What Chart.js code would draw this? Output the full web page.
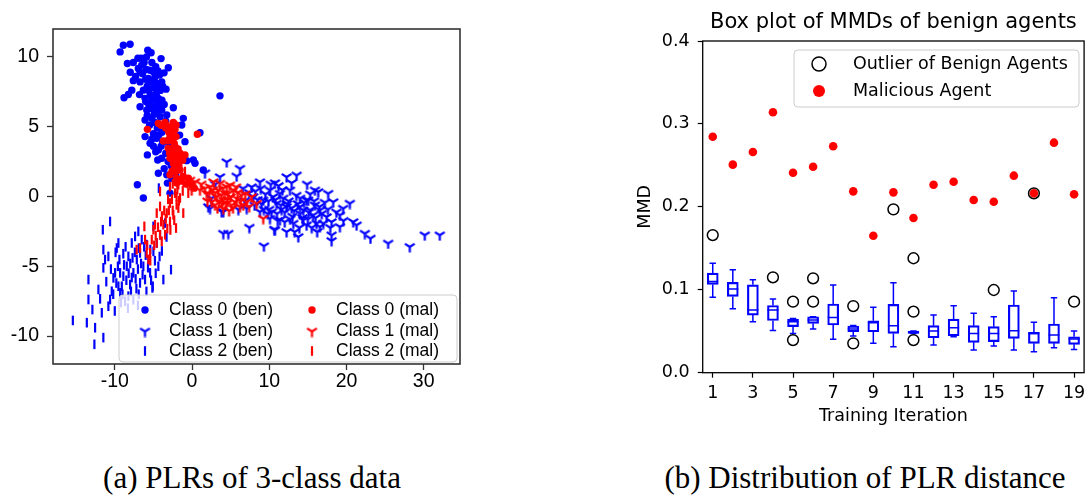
<!DOCTYPE html>
<html>
<head>
<meta charset="utf-8">
<title>PLR scatter and MMD box plot</title>
<script src="https://cdn.jsdelivr.net/npm/chart.js@4.4.1/dist/chart.umd.min.js"></script>
<style>
  html, body { margin: 0; padding: 0; background: #fff; }
  body { width: 1091px; height: 495px; position: relative; overflow: hidden; }
  canvas { position: absolute; }
  #plr { left: 0; top: 0; }
  #mmd { left: 600px; top: 0; }
  .caption {
    position: absolute; top: 460px; white-space: nowrap; line-height: 36px;
    font-family: "Liberation Serif", "DejaVu Serif", serif; font-size: 31px;
    transform: translateX(-50%); color: #000;
  }
</style>
</head>
<body>
<canvas id="plr" width="480" height="410"></canvas>
<canvas id="mmd" width="491" height="440"></canvas>
<div class="caption" style="left: 252px;">(a) PLRs of 3-class data</div>
<div class="caption" style="left: 865px;">(b) Distribution of PLR distance</div>
<script>
// ---- (a) PLR points, [x, y] ----
const class0Ben = [
  [-8.89,10.84],[-8.02,10.91],[-9.31,10.36],[-5.73,10.48],[-4.01,9.88],[-8.37,9.53],[-6.95,9.17],
  [-6.51,9.41],[-6.73,8.93],[-5.43,9.05],[-5.0,8.93],[-3.07,9.22],[-3.62,8.86],[-6.73,8.21],
  [-5.65,8.46],[-4.79,8.57],[-4.57,8.1],[-3.92,8.21],[-3.36,7.69],[-6.3,7.62],[-7.8,7.62],
  [-8.24,7.31],[-8.8,7.07],[-6.08,7.03],[-5.21,7.14],[-4.36,7.03],[3.62,7.21],[-6.73,6.43],
  [-5.86,6.19],[-4.79,6.43],[-3.92,6.19],[-2.42,6.36],[-6.08,5.48],[-5.21,5.6],[-4.14,5.71],
  [-3.27,5.84],[-1.13,5.6],[-1.33,5.12],[-6.08,4.29],[-5.43,3.81],[-4.57,4.17],[-0.91,3.93],
  [1.03,4.57],[-5.78,2.98],[-4.36,3.34],[-3.92,2.74],[0.17,2.62],[-4.44,2.62],[-4.36,1.67],
  [-3.27,1.55],[-7.08,0.84],[-6.3,-0.11],[-3.19,0.96],[-2.85,0.24],[-1.77,2.43],[-0.69,2.57],
  [1.46,1.9],[0.39,2.38],[-5.4,8.2],[-4.9,7.8],[-5.6,7.6],[-4.6,7.4],[-5.1,6.9],[-4.4,6.6],
  [-5.3,6.3],[-4.9,5.9],[-3.6,6.6],[-4.1,7.6],[-6.4,8.8],[-5.9,9.1],[-4.7,9.3],[-6.0,6.8],
  [-5.5,5.1],[-4.5,4.9],[-3.9,4.6],[-5.0,4.5],[-4.0,3.6],[-3.4,3.1],[-2.7,2.2],[-3.6,2.0],
  [-2.2,3.3],[-1.6,4.4],[-7.3,8.6],[-7.6,9.6],[-5.9,10.0],[-6.8,7.3],[-5.0,3.6],[-2.6,1.3],
  [-7.0,9.9],[-6.2,9.6],[-5.2,9.6],[-4.4,9.0],[-6.0,8.4],[-5.0,8.3],[-4.2,8.7],[-3.8,7.9],
  [-5.8,7.9],[-4.4,7.8],[-5.4,7.3],[-4.8,7.0],[-3.9,6.9],[-5.6,6.6],[-4.6,6.1],[-4.1,6.3],
  [-3.4,5.4],[-5.8,5.8],[-4.8,5.3],[-4.3,4.4],[-3.6,4.9],[-5.2,4.1],[-4.7,3.2],[-3.8,3.9],
  [-3.0,3.7],[-2.5,2.6],[-3.1,2.5],[-2.1,1.5],[-7.6,8.3],[-8.0,8.9],[-6.6,9.9],[-5.3,10.3]
];
const class1Ben = [
  [4.49,2.5],[6.21,2.03],[1.68,1.71],[3.62,1.43],[5.78,1.48],[8.8,1.07],[10.74,1.0],[12.25,1.43],
  [13.54,1.55],[7.72,0.71],[10.09,0.48],[11.38,0.24],[12.68,0.48],[2.33,-0.83],[4.05,-1.07],
  [7.08,-0.83],[8.8,-1.07],[10.09,-1.55],[4.05,-2.62],[4.7,-2.62],[7.42,-2.19],[9.31,-3.52],
  [10.74,-2.38],[12.25,-2.5],[13.76,-2.86],[16.13,-1.9],[14.84,-0.24],[15.91,0.48],[7.93,0],
  [9.22,-0.24],[10.96,-0.47],[12.25,-0.71],[13.97,-0.71],[15.27,-0.95],[11.38,-1.66],[13.11,-1.9],
  [14.41,-1.66],[16.34,0.36],[17.63,0.24],[15.05,-0.24],[18.28,-0.36],[20.44,-0.47],[19.57,-0.83],
  [19.15,-1.31],[16.56,-0.95],[15.69,-1.31],[17.43,-1.43],[18.07,-1.79],[20.87,-1.79],[21.31,-2.02],
  [19.15,-2.14],[16.56,-2.14],[14.84,-2.02],[18.07,-2.74],[18.07,-3.14],[22.38,-2.62],[23.11,-2.97],
  [25.4,-3.33],[28.2,-3.57],[30.14,-2.74],[32.08,-2.74],[14.4,-0.95],[15.91,-0.59],[2.11,-0.71],
  [3.84,-1.07],[10.65,-2.33],[9,-0.5],[10,-0.9],[11,-1.2],[12,-1.1],[13,-1.4],[14,-1.2],[15,-1.6],
  [16,-1.5],[17,-1.9],[12.5,-0.3],[13.5,0.1],[11.5,-0.6],[14.5,-0.4],[16.5,-0.7],[10.5,0.0],
  [9.5,0.2],[8.5,-0.2],[12,-1.8],[15.5,-2.2],[13.2,-1.0],[11.8,-0.1],[14.0,-0.1],[17.6,-0.9],
  [6.6,0.6],[8.2,0.4],[9.8,-1.2],[11.2,0.8],[6.0,-0.9],[3.0,0.9],[2.5,-0.1],
  [8.9,0.6],[9.9,-0.3],[10.8,-0.2],[11.6,-0.9],[12.3,-0.5],[12.9,-0.8],[13.7,-0.5],[14.3,-1.5],
  [15.1,-1.1],[15.8,-0.3],[16.8,-1.2],[17.2,-0.4],[18.7,-1.1],[19.6,-1.7],[13.9,-2.2],[12.7,-1.6],
  [11.1,-1.7],[10.3,-1.1],[9.3,-0.9],[8.1,-0.6],[7.4,0.3],[6.8,-0.3],[16.2,-2.5],[17.9,-2.2],
  [14.9,0.9],[12.9,1.0],[11.7,0.5],[10.2,0.9],[13.3,-2.5],[15.3,0.2]
];
const class2Ben = [
  [-15.43,-8.88],[-13.62,-9.04],[-12.64,-10.59],[-11.48,-10.11],[-12.55,-9.4],[-13.41,-5.95],
  [-13.41,-7.38],[-11.9,-7.33],[-11.68,-8.33],[-12.12,-6.66],[-11.48,-5.11],[-11.26,-4.52],
  [-10.61,-1.79],[-11.55,-2.38],[-11.48,-3.81],[-10.83,-4.29],[-10.18,-5.83],[-10.39,-6.79],
  [-10.61,-7.38],[-10.83,-7.86],[-9.74,-3.69],[-9.4,-4.52],[-9.53,-3.33],[-9.96,-5.47],
  [-9.31,-5.47],[-9.09,-6.43],[-9.53,-6.43],[-8.89,-5.71],[-8.45,-5.0],[-8.24,-4.29],[-7.8,-3.33],
  [-7.37,-2.86],[-6.95,-2.5],[-8.02,-6.31],[-7.59,-5.47],[-7.15,-4.52],[-6.73,-4.04],[-6.51,-3.09],
  [-6.3,-5.0],[-6.08,-5.95],[-6.73,-6.19],[-5.65,-4.52],[-5.43,-5.47],[-5.08,-6.43],[-4.36,-5.0],
  [-3.71,-5.95],[-2.72,-5.24],[-5.0,-3.93],[-5.86,-3.45],[-8.24,-7.14],[-8.67,-7.5],[-5.13,-6.55],
  [-4.14,-2.74],[-4.57,-3.33],[-5.0,-2.14],[-3.49,-1.9],[-4.3,0.6],[-9.0,-7.0],[-8.5,-6.0],
  [-7.8,-5.8],[-7.2,-6.6],[-7.0,-5.2],[-8.0,-4.8],[-6.6,-4.8],[-6.0,-4.2],[-5.4,-3.8],[-7.4,-4.0],
  [-8.8,-4.9],[-9.8,-6.2],[-9.2,-7.6],[-10.2,-7.0],[-6.9,-7.0],[-5.9,-6.8],[-4.8,-4.6],[-3.9,-3.9],
  [-3.3,-2.9],[-7.6,-7.4],[-10.0,-8.2],[-8.3,-8.0],
  [-9.6,-5.0],[-8.9,-4.1],[-8.2,-5.5],[-7.9,-6.8],[-7.3,-5.9],[-6.9,-3.7],[-6.4,-5.6],[-6.2,-3.6],
  [-5.7,-5.1],[-5.3,-6.0],[-4.7,-5.5],[-4.2,-4.3],[-9.3,-6.9],[-10.5,-5.2],[-11.1,-6.1],[-8.6,-3.6],
  [-7.7,-4.4],[-12.9,-8.1],[-9.9,-4.0],[-7.0,-7.8]
];
const class0Mal = [
  [-5.78,4.81],[-4.36,5.24],[-3.36,5.12],[-2.42,5.31],[-2.07,5.12],[0.69,4.46],[-3.71,3.98],
  [-2.85,4.29],[-2.07,4.29],[-3.07,3.46],[-2.2,3.57],[-1.55,3.1],[-2.85,2.74],[-1.98,2.62],
  [-0.91,2.98],[-2.42,2.38],[-1.55,1.9],[-1.13,1.43],[-2.85,1.55],[-1.98,0.96],[-0.48,1.31],
  [-0.04,0.84],[-2.5,4.0],[-2.3,3.8],[-2.6,3.2],[-1.8,3.4],[-2.4,2.9],[-1.7,2.2],[-2.1,1.8],
  [-1.4,1.1],[-3.0,4.6],[-2.7,5.0],[-4.0,5.1],[-3.2,4.0],[-1.2,2.6],[-2.0,1.3],[-0.8,0.9],[0.3,0.6],
  [-2.7,4.5],[-2.2,4.8],[-3.4,4.9],[-2.9,3.1],[-2.0,3.0],[-2.3,2.0],[-1.8,1.2],[-2.6,1.8],
  [-1.4,2.9],[-3.5,5.3]
];
const class1Mal = [
  [0.39,1.07],[1.03,0.48],[-0.04,0.48],[-0.26,1.19],[2.76,1.07],[2.33,0.71],[1.9,0.24],[3.62,0.96],
  [4.49,0.71],[3.19,0],[4.05,-0.24],[4.7,0.24],[5.34,0.48],[5.78,-0.11],[5.14,-0.59],[6.43,0.12],
  [7.08,-0.36],[7.72,0],[6.21,-0.71],[4.05,-0.83],[2.98,-0.59],[8.37,-0.47],[9.22,-1.55],[1.68,0.6],
  [2.55,-0.36],[3.4,0.48],[4.92,0.84],[5.56,-0.36],[6.64,-0.59],[4.27,0.24],[3.0,0.3],[3.8,0.1],
  [4.4,-0.5],[5.0,0.0],[5.9,0.3],[3.5,-0.3],[2.2,0.2],[6.9,0.2],[7.4,-0.7],[4.8,-1.0],
  [2.7,0.5],[3.3,-0.8],[4.0,0.6],[4.6,-0.2],[5.3,-0.8],[5.7,0.7],[6.3,-0.3],[3.9,-0.5],[2.0,-0.3],[1.2,0.9]
];
const class2Mal = [
  [-4.14,-0.71],[-4.57,-1.19],[-2.85,-0.47],[-2.2,0.24],[-1.77,0.84],[-1.55,-0.11],[-1.13,-1.19],
  [-2.07,-2.26],[-2.85,-1.79],[-3.71,-2.02],[-4.14,-2.74],[-5.0,-2.38],[-5.21,-3.09],[-4.57,-3.33],
  [-5.43,-4.04],[-6.08,-3.09],[-6.73,-3.69],[-5.65,-4.52],[-3.49,-2.74],[-3.27,-1.19],[-2.42,-1.31],
  [-1.77,-0.83],[-0.48,0.24],[-2.2,1.19],[-4.14,0.36],[-2.85,0.71],[-0.91,1.79],[-3.92,-3.21],
  [-4.79,-2.02],[-6.17,-2.14],[-7.17,-3.81],[-5.87,-4.05],[-3.0,-1.0],[-2.6,-0.2],[-2.0,-0.6],
  [-3.4,-1.6],[-1.9,0.5],[-1.4,1.3],[-3.9,-1.4],[-4.4,-2.2],[-2.3,-1.7],[-1.5,2.2],[-2.5,0.9],
  [-3.2,-2.3],[-4.9,-3.5],[-5.4,-4.6],
  [-2.5,-1.0],[-3.1,-0.2],[-1.7,-0.3],[-3.6,-1.0],[-4.0,-1.8],[-2.8,-2.4],[-4.7,-2.8],[-5.8,-3.5],
  [-2.0,0.0],[-1.2,0.4]
];
const plrXTicks = [-10, 0, 10, 20, 30];
const plrYTicks = [-10, -5, 0, 5, 10];

// ---- (b) MMD per training iteration ----
const iterations = [1, 2, 3, 4, 5, 6, 7, 8, 9, 10, 11, 12, 13, 14, 15, 16, 17, 18, 19];
const whiskerHigh = [0.132, 0.124, 0.112, 0.089, 0.0655, 0.0675, 0.1057, 0.057, 0.0788, 0.1085,
  0.0502, 0.0695, 0.0808, 0.0716, 0.0675, 0.0985, 0.0607, 0.0905, 0.0502];
const boxQ3 = [0.120, 0.109, 0.106, 0.081, 0.0647, 0.0675, 0.0828, 0.0563, 0.0627, 0.0824,
  0.0502, 0.0567, 0.0647, 0.0567, 0.0555, 0.0816, 0.0486, 0.0587, 0.0434];
const boxMedian = [0.110, 0.101, 0.0756, 0.0756, 0.0615, 0.0635, 0.0667, 0.0527, 0.0603, 0.0567,
  0.0486, 0.0502, 0.0543, 0.0474, 0.0474, 0.0507, 0.0474, 0.0454, 0.0406];
const boxQ1 = [0.1065, 0.092, 0.0695, 0.063, 0.0555, 0.0595, 0.0575, 0.0494, 0.0494, 0.0474,
  0.0474, 0.0422, 0.0446, 0.0366, 0.0374, 0.0414, 0.0354, 0.0354, 0.0342];
const whiskerLow = [0.091, 0.077, 0.0615, 0.051, 0.0474, 0.0527, 0.0402, 0.0443, 0.0354, 0.0314,
  0.0474, 0.0334, 0.0434, 0.0273, 0.0322, 0.0273, 0.0253, 0.0302, 0.0281];
const outlierIteration = [1, 4, 5, 5, 6, 6, 8, 8, 10, 11, 11, 11, 15, 17, 19];
const outlierMMD = [0.166, 0.115, 0.0856, 0.0394, 0.1138, 0.0856, 0.0804, 0.0354, 0.197, 0.138,
  0.0736, 0.0394, 0.0997, 0.2163, 0.0856];
const maliciousMMD = [0.2846, 0.2509, 0.2661, 0.314, 0.2412, 0.2484, 0.273, 0.2187, 0.1652, 0.2175,
  0.1865, 0.2267, 0.2303, 0.2082, 0.2062, 0.2376, 0.2163, 0.2774, 0.2151];
const mmdTicks = [0, 0.1, 0.2, 0.3, 0.4];
const iterTicks = [1, 3, 5, 7, 9, 11, 13, 15, 17, 19];

const BLUE = '#0000ff';
const RED = '#ff0000';
const SANS_A = '"Liberation Sans", Arial, sans-serif';
const SANS_B = '"DejaVu Sans", sans-serif';

// tri_down marker ("Y") as a small canvas used as pointStyle
function triDown(color) {
  const c = document.createElement('canvas');
  c.width = 13; c.height = 13;
  const g = c.getContext('2d');
  g.strokeStyle = color;
  g.lineWidth = 2.2;
  g.beginPath();
  g.moveTo(6.5, 7); g.lineTo(6.5, 12.5);
  g.moveTo(6.5, 7); g.lineTo(1.6, 3.9);
  g.moveTo(6.5, 7); g.lineTo(11.4, 3.9);
  g.stroke();
  return c;
}

const markers = {
  circle: { pointStyle: 'circle', pointRadius: 3.7, pointBorderWidth: 0, rotation: 0 },
  tri: { pointRadius: 5, pointBorderWidth: 0, rotation: 0 },
  vline: { pointStyle: 'line', pointRadius: 4.8, pointBorderWidth: 2.2, rotation: 90 }
};

function scatterSet(label, pts, color, kind, order) {
  const m = markers[kind];
  return {
    label,
    data: pts.map(([x, y]) => ({ x, y })),
    order,
    pointStyle: kind === 'tri' ? triDown(color) : m.pointStyle,
    pointRadius: m.pointRadius,
    pointHoverRadius: m.pointRadius,
    pointBorderWidth: m.pointBorderWidth,
    pointRotation: m.rotation,
    pointBackgroundColor: color,
    pointBorderColor: color
  };
}

// box around the plotting area
const frame = {
  id: 'frame',
  afterDatasetsDraw(chart, args, opts) {
    const { ctx, chartArea: a } = chart;
    ctx.save();
    ctx.strokeStyle = opts.color;
    ctx.lineWidth = opts.width;
    ctx.strokeRect(a.left, a.top, a.right - a.left, a.bottom - a.top);
    ctx.restore();
  }
};

// one legend marker, same look as the plotted points
function legendMarker(ctx, ds, it) {
  const style = ds.pointStyle;
  if (style instanceof HTMLCanvasElement) {
    ctx.drawImage(style, it.mx - style.width / 2, it.y - style.height / 2);
  } else if (style === 'line') {
    ctx.beginPath();
    ctx.moveTo(it.mx, it.y - ds.pointRadius);
    ctx.lineTo(it.mx, it.y + ds.pointRadius);
    ctx.strokeStyle = ds.pointBorderColor;
    ctx.lineWidth = ds.pointBorderWidth;
    ctx.stroke();
  } else {
    ctx.beginPath();
    ctx.arc(it.mx, it.y, it.radius || ds.pointRadius, 0, Math.PI * 2);
    ctx.fillStyle = ds.pointBackgroundColor;
    ctx.fill();
    if (ds.pointBorderWidth > 0) {
      ctx.strokeStyle = ds.pointBorderColor;
      ctx.lineWidth = ds.pointBorderWidth;
      ctx.stroke();
    }
  }
}

// matplotlib-like legend box drawn on the canvas
const boxLegend = {
  id: 'boxLegend',
  afterDraw(chart, args, opts) {
    const { ctx } = chart;
    const b = opts.box;
    ctx.save();
    ctx.beginPath();
    ctx.roundRect(b.x, b.y, b.w, b.h, 4);
    ctx.fillStyle = 'rgba(255,255,255,0.8)';
    ctx.fill();
    ctx.strokeStyle = '#cccccc';
    ctx.lineWidth = 1;
    ctx.stroke();
    opts.items.forEach(it => {
      const ds = chart.data.datasets[it.dataset];
      legendMarker(ctx, ds, it);
      ctx.font = opts.font;
      ctx.textBaseline = 'middle';
      ctx.textAlign = 'left';
      ctx.fillStyle = '#000';
      ctx.fillText(ds.label, it.tx, it.y);
    });
    ctx.restore();
  }
};

// whiskers, caps and medians of each benign box
const whiskers = {
  id: 'whiskers',
  beforeDatasetsDraw(chart) {
    const { ctx, scales: { x, y } } = chart;
    const seg = (x0, y0, x1, y1) => { ctx.moveTo(x0, y0); ctx.lineTo(x1, y1); };
    ctx.save();
    ctx.strokeStyle = BLUE;
    ctx.lineWidth = 1.5;
    ctx.beginPath();
    iterations.forEach((it, i) => {
      const px = x.getPixelForValue(it);
      const hi = y.getPixelForValue(whiskerHigh[i]);
      const lo = y.getPixelForValue(whiskerLow[i]);
      seg(px, hi, px, y.getPixelForValue(boxQ3[i]));
      seg(px, y.getPixelForValue(boxQ1[i]), px, lo);
      seg(px - 3.2, hi, px + 3.2, hi);
      seg(px - 3.2, lo, px + 3.2, lo);
      const md = y.getPixelForValue(boxMedian[i]);
      seg(px - 5.5, md, px + 5.5, md);
    });
    ctx.stroke();
    ctx.restore();
  }
};

// plot title centred over the axes
const axesTitle = {
  id: 'axesTitle',
  afterDraw(chart, args, opts) {
    const { ctx, chartArea: a } = chart;
    ctx.save();
    ctx.font = opts.font;
    ctx.fillStyle = '#000';
    ctx.textAlign = 'center';
    ctx.textBaseline = 'middle';
    ctx.fillText(opts.text, (a.left + a.right) / 2, opts.y);
    ctx.restore();
  }
};

// ---------- (a) scatter of PLRs ----------
const plrTickFont = { family: SANS_A, size: 19.5 };
new Chart(document.getElementById('plr'), {
  type: 'scatter',
  data: {
    datasets: [
      scatterSet('Class 0 (ben)', class0Ben, BLUE, 'circle', 2),
      scatterSet('Class 1 (ben)', class1Ben, BLUE, 'tri', 2),
      scatterSet('Class 2 (ben)', class2Ben, BLUE, 'vline', 2),
      scatterSet('Class 0 (mal)', class0Mal, RED, 'circle', 1),
      scatterSet('Class 1 (mal)', class1Mal, RED, 'tri', 1),
      scatterSet('Class 2 (mal)', class2Mal, RED, 'vline', 1)
    ]
  },
  options: {
    responsive: false,
    animation: false,
    devicePixelRatio: 1,
    layout: { padding: { top: 29, right: 20, left: 0, bottom: 0 } },
    plugins: {
      legend: { display: false },
      tooltip: { enabled: false },
      frame: { color: '#333333', width: 1.6 },
      boxLegend: {
        box: { x: 119, y: 295, w: 338, h: 67 },
        font: '17.5px ' + SANS_A,
        items: [
          { dataset: 0, mx: 145, tx: 169, y: 310 },
          { dataset: 1, mx: 145, tx: 169, y: 331 },
          { dataset: 2, mx: 145, tx: 169, y: 351 },
          { dataset: 3, mx: 312, tx: 336, y: 310 },
          { dataset: 4, mx: 312, tx: 336, y: 331 },
          { dataset: 5, mx: 312, tx: 336, y: 351 }
        ]
      }
    },
    scales: {
      x: {
        type: 'linear',
        min: -18,
        max: 34.7,
        afterBuildTicks: s => { s.ticks = plrXTicks.map(v => ({ value: v })); },
        afterFit: s => { s.height = 46; },
        grid: { drawOnChartArea: false, tickLength: 6, tickColor: '#333333', tickWidth: 1.3 },
        border: { display: false },
        ticks: { font: plrTickFont, color: '#000', padding: 0, maxRotation: 0 }
      },
      y: {
        type: 'linear',
        min: -12,
        max: 12,
        afterBuildTicks: s => { s.ticks = plrYTicks.map(v => ({ value: v })); },
        afterFit: s => { s.width = 53; },
        grid: { drawOnChartArea: false, tickLength: 6, tickColor: '#333333', tickWidth: 1.3 },
        border: { display: false },
        ticks: { font: plrTickFont, color: '#000', padding: 8 }
      }
    }
  },
  plugins: [frame, boxLegend]
});

// ---------- (b) box plot of MMDs ----------
const mmdFont = { family: SANS_B, size: 17.5 };
new Chart(document.getElementById('mmd'), {
  type: 'scatter',
  data: {
    datasets: [
      {
        type: 'bar',
        label: 'Benign Agents',
        data: iterations.map((it, i) => ({ x: it, y: [boxQ1[i], boxQ3[i]] })),
        backgroundColor: 'rgba(0,0,0,0)',
        borderColor: BLUE,
        borderWidth: 1.5,
        borderSkipped: false,
        barThickness: 11,
        order: 3
      },
      {
        label: 'Outlier of Benign Agents',
        data: outlierIteration.map((it, i) => ({ x: it, y: outlierMMD[i] })),
        pointStyle: 'circle',
        pointRadius: 5.4,
        pointHoverRadius: 5.4,
        pointBorderWidth: 1.5,
        pointBackgroundColor: 'rgba(0,0,0,0)',
        pointBorderColor: '#000',
        order: 1
      },
      {
        label: 'Malicious Agent',
        data: iterations.map((it, i) => ({ x: it, y: maliciousMMD[i] })),
        pointStyle: 'circle',
        pointRadius: 4.3,
        pointHoverRadius: 4.3,
        pointBorderWidth: 0,
        pointBackgroundColor: RED,
        pointBorderColor: RED,
        order: 2
      }
    ]
  },
  options: {
    responsive: false,
    animation: false,
    devicePixelRatio: 1,
    layout: { padding: { top: 41, right: 2, left: 0, bottom: 0 } },
    plugins: {
      legend: { display: false },
      tooltip: { enabled: false },
      frame: { color: '#000', width: 1.3 },
      axesTitle: { text: 'Box plot of MMDs of benign agents', font: '21px ' + SANS_B, y: 23 },
      boxLegend: {
        box: { x: 194, y: 50, w: 285, h: 57 },
        font: '17.5px ' + SANS_B,
        items: [
          { dataset: 1, mx: 219, tx: 253, y: 64, radius: 7 },
          { dataset: 2, mx: 219, tx: 253, y: 91, radius: 6 }
        ]
      }
    },
    scales: {
      x: {
        type: 'linear',
        min: 0.5,
        max: 19.5,
        offset: false,
        afterBuildTicks: s => { s.ticks = iterTicks.map(v => ({ value: v })); },
        afterFit: s => { s.height = 67.3; },
        grid: { drawOnChartArea: false, offset: false, tickLength: 5, tickColor: '#000', tickWidth: 1.2 },
        border: { display: false },
        ticks: { font: mmdFont, color: '#000', padding: 5, maxRotation: 0 },
        title: { display: true, text: 'Training Iteration', font: mmdFont, color: '#000', padding: { top: 0, bottom: 13 } }
      },
      y: {
        type: 'linear',
        min: 0,
        max: 0.4,
        afterBuildTicks: s => { s.ticks = mmdTicks.map(v => ({ value: v })); },
        afterFit: s => { s.width = 102.7; },
        grid: { drawOnChartArea: false, tickLength: 5, tickColor: '#000', tickWidth: 1.2 },
        border: { display: false },
        ticks: { font: mmdFont, color: '#000', padding: 8, callback: v => v.toFixed(1) },
        title: { display: true, text: 'MMD', font: mmdFont, color: '#000', padding: { top: 35, bottom: 0 } }
      }
    }
  },
  plugins: [whiskers, frame, axesTitle, boxLegend]
});
</script>
</body>
</html>
